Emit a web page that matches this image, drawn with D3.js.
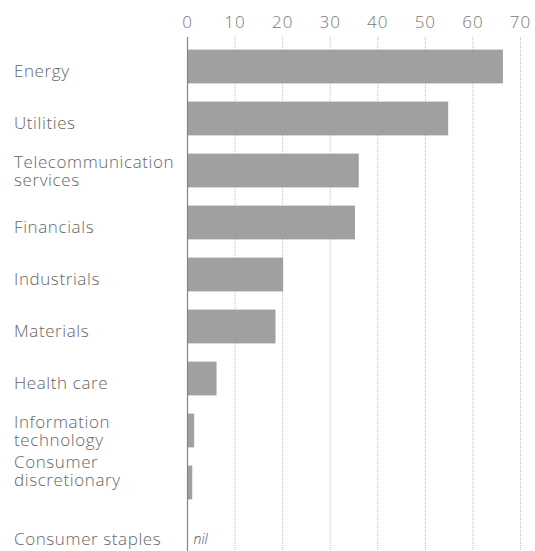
<!DOCTYPE html>
<html lang="en">
<head>
  <meta charset="UTF-8">
  <title>Sector bar chart</title>
  <script src="https://cdn.jsdelivr.net/npm/d3@7"></script>
  <style>
    body { margin: 0; background: #fff; }
    text { font-family: "Open Sans", "Noto Sans", sans-serif; font-weight: 300; }
  </style>
</head>
<body>
<script>
  var categories = [
    ['Energy'],
    ['Utilities'],
    ['Telecommunication', 'services'],
    ['Financials'],
    ['Industrials'],
    ['Materials'],
    ['Health care'],
    ['Information', 'technology'],
    ['Consumer', 'discretionary'],
    ['Consumer staples']
  ];
  var values = [66.3, 54.8, 36.0, 35.2, 20.1, 18.5, 6.1, 1.4, 1.0, null];
  var ticks = [0, 10, 20, 30, 40, 50, 60, 70];

  var W = 535, H = 551;
  var names = categories.map(function(c){ return c.join(' '); });

  var svg = d3.select('body').append('svg')
    .attr('width', W).attr('height', H);

  var x = d3.scaleLinear().domain([0, 70]).range([187.5, 520.5]);
  var y = d3.scaleBand().domain(names).range([40.5, 560.5])
    .paddingInner(0.35).paddingOuter(0.175);

  // grid
  svg.append('g').selectAll('line')
    .data(ticks.slice(1))
    .enter().append('line')
    .attr('x1', function(d){ return x(d); })
    .attr('x2', function(d){ return x(d); })
    .attr('y1', 37).attr('y2', H)
    .attr('stroke', '#bdbdbd')
    .attr('stroke-width', 1)
    .attr('stroke-dasharray', '1,1');

  // tick labels
  svg.append('g').selectAll('text')
    .data(ticks)
    .enter().append('text')
    .attr('x', function(d){ return x(d); })
    .attr('y', 28)
    .attr('text-anchor', 'middle')
    .attr('font-size', 17)
    .attr('letter-spacing', 1)
    .attr('fill', '#777')
    .text(function(d){ return d; });

  // bars
  var data = names.map(function(n, i){ return {name: n, lines: categories[i], v: values[i]}; });

  svg.append('g').selectAll('rect')
    .data(data.filter(function(d){ return d.v != null; }))
    .enter().append('rect')
    .attr('x', x(0))
    .attr('y', function(d){ return y(d.name); })
    .attr('width', function(d){ return x(d.v) - x(0); })
    .attr('height', y.bandwidth())
    .attr('fill', '#a0a0a0');

  // zero line
  svg.append('line')
    .attr('x1', x(0)).attr('x2', x(0))
    .attr('y1', 37).attr('y2', H)
    .attr('stroke', '#858585')
    .attr('stroke-width', 1.2);

  // category labels (the consumer discretionary label sits higher in the original)
  var lab = svg.append('g').selectAll('text')
    .data(data)
    .enter().append('text')
    .attr('x', 14)
    .attr('font-size', 17)
    .attr('letter-spacing', 0.6)
    .attr('fill', '#666')
    .attr('y', function(d){
      var c = y(d.name) + y.bandwidth() / 2;
      if (d.lines.length == 1) return c + 10;
      return d.name == 'Consumer discretionary' ? c - 15 : c - 3;
    });
  lab.selectAll('tspan')
    .data(function(d){ return d.lines; })
    .enter().append('tspan')
    .attr('x', 14)
    .attr('dy', function(d, i){ return i == 0 ? 0 : 18; })
    .text(function(d){ return d; });

  // nil marker
  data.filter(function(d){ return d.v == null; }).forEach(function(d){
    svg.append('text')
      .attr('x', x(0) + 6)
      .attr('y', y(d.name) + y.bandwidth() / 2 + 9)
      .attr('font-size', 14)
      .attr('font-style', 'italic')
      .attr('font-family', '"DejaVu Serif", "Liberation Serif", serif')
      .attr('fill', '#555')
      .text('nil');
  });
</script>
</body>
</html>
